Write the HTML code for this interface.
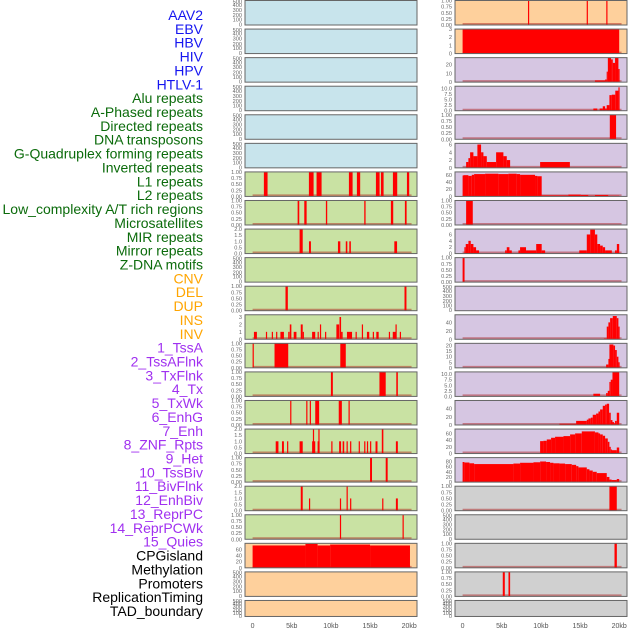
<!DOCTYPE html>
<html><head><meta charset="utf-8">
<style>
html,body{margin:0;padding:0;background:#fff;width:630px;height:630px;overflow:hidden}
svg{display:block;font-family:"Liberation Sans",sans-serif}
</style></head>
<body>
<svg id="chart" width="630" height="630" viewBox="0 0 630 630" xmlns="http://www.w3.org/2000/svg"></svg>
<script>
// ---- track labels ----
const trackLabels=["AAV2","EBV","HBV","HIV","HPV","HTLV-1","Alu repeats","A-Phased repeats","Directed repeats","DNA transposons","G-Quadruplex forming repeats","Inverted repeats","L1 repeats","L2 repeats","Low_complexity A/T rich regions","Microsatellites","MIR repeats","Mirror repeats","Z-DNA motifs","CNV","DEL","DUP","INS","INV","1_TssA","2_TssAFlnk","3_TxFlnk","4_Tx","5_TxWk","6_EnhG","7_Enh","8_ZNF_Rpts","9_Het","10_TssBiv","11_BivFlnk","12_EnhBiv","13_ReprPC","14_ReprPCWk","15_Quies","CPGisland","Methylation","Promoters","ReplicationTiming","TAD_boundary"];
const labelGroups=[6,13,5,15,5]; // blue, green, orange, purple, black
const groupColors=["#1515f0","#0b6b0b","#ffa500","#a030f0","#000000"];
const xTickValues=[0,5,10,15,20];
const xTickLabels=["0","5kb","10kb","15kb","20kb"];

// ---- left column data (start kb, end kb, value) ----
const L6=[[1.44,1.91,1],[7.19,7.79,1],[8.17,8.81,1],[12.3,12.77,1],[13.32,13.74,1],[15.75,16.22,1],[16.39,16.73,1],[17.92,18.47,1],[19.71,20.0,1]];
const L7=[[5.75,5.96,1],[6.6,6.9,1],[9.36,9.53,1],[14.26,14.43,1],[17.66,17.96,1],[19.45,19.67,1]];
const L8=[[6.0,6.4,2],[7.2,7.45,1],[10.9,11.2,1],[11.9,12.1,1],[12.35,12.55,1],[18.1,18.45,1]];
const L10=[[4.2,4.5,1],[19.4,19.65,1]];
const L11=[[0.17,0.55,1],[1.7,1.82,1],[2.45,2.6,1],[3.0,3.12,1],[3.55,4.0,1],[4.55,4.72,1],[4.75,4.95,2],[5.25,5.6,1],[6.15,6.4,2],[6.4,6.5,1],[7.6,8.0,1],[8.3,8.45,1],[8.6,8.75,2],[9.25,9.4,1],[10.7,11.05,2],[11.1,11.3,3],[11.3,11.5,1],[12.05,12.7,1],[13.15,13.3,1],[13.95,14.1,2],[14.6,14.9,1],[15.35,15.5,1],[15.8,16.1,1],[17.4,17.55,1],[17.9,18.25,1],[18.25,18.4,2],[18.8,18.95,1]];
const L12=[[0.0,0.12,1],[2.8,4.55,1],[11.2,11.9,1]];
const L13=[[10.0,10.25,1],[16.2,17.0,1],[18.35,18.55,1]];
const L14=[[4.8,4.95,1],[6.85,7.0,1],[7.3,7.45,1],[8.0,8.5,1],[11.0,11.4,1],[12.25,12.4,1]];
const L15=[[2.95,3.3,1],[3.75,4.0,1],[4.4,4.55,1],[6.0,6.4,1],[7.6,8.0,1],[7.7,7.85,2],[8.3,8.55,1],[8.4,8.5,2],[10.05,10.15,1],[11.05,11.3,1],[11.5,11.7,1],[12.0,12.15,1],[12.45,12.6,1],[13.55,13.7,1],[14.25,14.4,1],[14.6,14.75,1],[15.0,15.15,1],[15.7,15.95,1],[16.5,16.7,2],[18.3,18.55,1]];
const L16=[[15.0,15.25,1],[17.0,17.25,1]];
const L17=[[6.15,6.4,2],[7.2,7.35,1],[11.15,11.3,1],[12.0,12.15,2],[12.45,12.6,1],[16.55,16.7,1],[18.3,18.55,1]];
const L18=[[11.15,11.3,1],[19.15,19.3,1]];
const L19=[[0,6.75,73],[6.75,8.3,78],[8.3,9.9,73],[9.9,15.0,76],[15.0,20.1,73]];

// ---- right column data ----
const R0=[[8.35,8.5,1],[15.85,16.0,1],[18.35,18.5,1]];
const R1=[[0,20,3]];
const R2edges=[16.9,18.2,18.4,18.55,18.96,19.18,19.47,19.9,20.0];
const R2vals=[2,3,12,28,26,22,28,15];
const R3=[[16.7,17.2,1],[17.5,17.9,1],[17.9,18.2,2],[18.2,18.4,1],[18.4,18.75,2.5],[18.75,19.05,7],[19.05,19.5,7.2],[19.5,19.9,9],[19.9,20.0,10.5]];
const R4=[[18.8,19.6,1]];
const R5edges=[0.45,0.74,0.96,1.38,1.89,2.36,2.66,3.09,4.28,5.21,5.64,6.07,9.9,13.7];
const R5vals=[1.5,2.5,4,3,6,4,3,1.5,4,3,2,0,1.5];
const R6edges=[0,0.11,0.74,1.17,1.47,2.87,4.57,5.85,6.9,7.34,9.25,9.55,10.1,13.5,15.1,16.05,16.9,18.6,20.0];
const R6vals=[58,59,57,60,62,63,62,63,62,60,57,56,3,5,4,2,4,2];
const R7=[[0.45,1.3,1]];
const R8edges=[0.23,0.4,0.74,1.04,1.38,1.72,2.1,5.43,5.64,5.98,6.28,7.13,7.34,8.1,9.4,10.1,10.54,14.9,15.86,16.3,16.9,17.2,17.56,17.9,18.2,19.06,19.47,19.7,20.0];
const R8vals=[2,3,4,3,2,1,0,1,2,1,0,1,2,1,3,1,0,1,6,7.5,6,3,2.5,2,1,0,1,3];
const R9=[[0,0.25,1]];
const R11edges=[18.05,18.41,18.62,18.84,19.18,19.69,19.9,20.0];
const R11vals=[2,30,40,50,55,50,30];
const R12edges=[18.33,18.62,18.75,19.26,19.47,19.69,19.9,20.0];
const R12vals=[3,8,21,20,16,10,5];
const R13edges=[16.7,17.56,18.33,18.54,18.75,18.92,19.14,20.0];
const R13vals=[1.2,0,1.5,2.5,6.5,7.5,11];
const R14edges=[12.37,14.5,15.86,16.07,16.37,16.62,17.05,17.35,17.56,17.9,18.2,18.41,18.71,18.92,19.14,19.35,19.47,19.69,20.0];
const R14vals=[3,10,13,16,18,25,28,33,38,47,50,52,30,12,7,4,10,30];
const R15edges=[9.9,10.32,10.75,11.3,11.81,12.88,13.73,14.37,15.22,16.9,17.35,17.56,17.9,18.2,18.54,18.75,18.92,19.03,19.69,20.0];
const R15vals=[37,38,42,47,50,52,57,60,66,63,60,57,53,45,35,20,12,10,18];
const R16edges=[0,0.23,0.87,1.47,6.49,7.34,9.05,9.9,10.66,11.17,11.6,12.37,13.09,13.94,14.5,14.79,15.86,16.2,16.62,17.13,18.41,18.75,19.03,19.69,20.0];
const R16vals=[78,76,73,70,72,75,77,80,78,75,73,72,70,67,62,57,50,45,40,35,20,10,8,12];
const R17=[[18.75,19.69,1]];
const R19=[[19.4,19.7,1]];
const R20=[[5.13,5.39,1],[5.86,6.07,1]];

// ---- tick sets ----
const T01=["1.00","0.75","0.50","0.25","0.00"];
const T01v=[1,0.75,0.5,0.25,0];

function steps(edges,vals){const o=[];for(let i=0;i<vals.length;i++){if(vals[i]>0)o.push([edges[i],edges[i+1],vals[i]]);}return o;}

const C={blue:"#c8e4ec",green:"#c9e2a3",peach:"#fed09c",lav:"#d6c6e2",grey:"#d0d0d0"};
function bin(b,bg){return {bg:bg,bins:b,ymax:1,ticks:T01v,tl:T01};}
function empty(bg){return {bg:bg,bins:null};}
function hist(b,bg,ymax,ticks){return {bg:bg,bins:b,ymax:ymax,ticks:ticks,tl:ticks.map(String)};}
const T2=[2,1.5,1,0.5,0], T2l=["2.0","1.5","1.0","0.5","0.0"];
const T10=[10,7.5,5,2.5,0], T10l=["10.0","7.5","5.0","2.5","0.0"];

const left=[empty(C.blue),empty(C.blue),empty(C.blue),empty(C.blue),empty(C.blue),empty(C.blue),
 bin(L6,C.green),bin(L7,C.green),
 {bg:C.green,bins:L8,ymax:2,ticks:T2,tl:T2l},
 empty(C.green),bin(L10,C.green),
 hist(L11,C.green,3.3,[3,2,1,0]),
 bin(L12,C.green),bin(L13,C.green),bin(L14,C.green),
 {bg:C.green,bins:L15,ymax:2,ticks:T2,tl:T2l},
 bin(L16,C.green),
 {bg:C.green,bins:L17,ymax:2,ticks:T2,tl:T2l},
 bin(L18,C.green),
 hist(L19,C.peach,80,[60,40,20,0]),
 empty(C.peach),empty(C.peach)];
const right=[bin(R0,C.peach),hist(R1,C.peach,3,[3,2,1,0]),
 hist(steps(R2edges,R2vals),C.lav,28,[20,10,0]),
 {bg:C.lav,bins:R3,ymax:11,ticks:T10,tl:T10l},
 bin(R4,C.lav),
 hist(steps(R5edges,R5vals),C.lav,6.3,[6,4,2,0]),
 hist(steps(R6edges,R6vals),C.lav,68,[60,40,20,0]),
 bin(R7,C.lav),
 hist(steps(R8edges,R8vals),C.lav,7.7,[6,4,2,0]),
 bin(R9,C.lav),empty(C.lav),
 hist(steps(R11edges,R11vals),C.lav,58,[40,20,0]),
 hist(steps(R12edges,R12vals),C.lav,22,[20,15,10,5,0]),
 {bg:C.lav,bins:steps(R13edges,R13vals),ymax:11,ticks:T10,tl:T10l},
 hist(steps(R14edges,R14vals),C.lav,60,[40,20,0]),
 hist(steps(R15edges,R15vals),C.lav,73,[60,40,20,0]),
 hist(steps(R16edges,R16vals),C.lav,95,[80,60,40,20,0]),
 bin(R17,C.grey),empty(C.grey),bin(R19,C.grey),bin(R20,C.grey),empty(C.grey)];

const NS="http://www.w3.org/2000/svg";
const svg=document.getElementById("chart");
function mk(tag,attrs,parent){const e=document.createElementNS(NS,tag);for(const k in attrs)e.setAttribute(k,attrs[k]);(parent||svg).appendChild(e);return e;}

const pitch=28.57, pw=172, colX=[245,455], kbOff=7.6, pxKb=7.83;
const emptyTicks=["500","400","300","200","100","0"], emptyFr=[0.03,0.19,0.39,0.6,0.78,0.98];

function drawPanel(p,col,row){
  const ph=row===21?16:24.5;
  const x0=colX[col], y0=row*pitch+0.5;
  const g=mk("g",{});
  
  
  mk("rect",{x:x0,y:y0,width:pw,height:ph,fill:p.bg},g);
  const xs=kb=>x0+kbOff+kb*pxKb;
  const ys=v=>y0+ph*(1-Math.min(v,p.ymax)/p.ymax);
  if(p.bins){
    mk("line",{x1:xs(0),x2:xs(20.3),y1:y0+ph-1,y2:y0+ph-1,stroke:"rgba(170,20,20,0.45)","stroke-width":2},g);
    p.bins.forEach(b=>{
      const r=mk("rect",{x:xs(b[0]),y:ys(b[2]),width:Math.max(1.2,xs(b[1])-xs(b[0])),height:y0+ph-ys(b[2]),fill:"#ff0000"},g);
      
      
    });
    p.ticks.forEach((t,i)=>{
      const tx=mk("text",{x:x0-3,y:ys(t)+2,"font-size":"5.6","text-anchor":"end",fill:"#666"},g);
      tx.textContent=p.tl[i];
      
      
    });
  } else {
    emptyTicks.forEach((t,i)=>{
      const tx=mk("text",{x:x0-3,y:y0+ph*emptyFr[i]+2,"font-size":"5.6","text-anchor":"end",fill:"#666"},g);
      tx.textContent=t;
      
      
    });
  }
  mk("rect",{x:x0,y:y0,width:pw,height:ph,fill:"none",stroke:"#666","stroke-width":1},g);
}
left.forEach((p,i)=>drawPanel(p,0,i));
right.forEach((p,i)=>drawPanel(p,1,i));

// x-axis labels
[0,1].forEach(col=>{
  xTickValues.forEach((v,i)=>{
    const t=mk("text",{x:colX[col]+kbOff+v*pxKb,y:628,"font-size":"7","text-anchor":"middle",fill:"#555"});
    t.textContent=xTickLabels[i];
    
    
  });
});

// left labels
let gi=0,cnt=0;
trackLabels.forEach((lab,i)=>{
  while(cnt>=labelGroups[gi]){cnt=0;gi++;}
  cnt++;
  const t=mk("text",{x:203,y:15+i*13.86+5,"font-size":"14","text-anchor":"end",fill:groupColors[gi]});
  t.textContent=lab;
  
  
});
</script>
</body></html>
